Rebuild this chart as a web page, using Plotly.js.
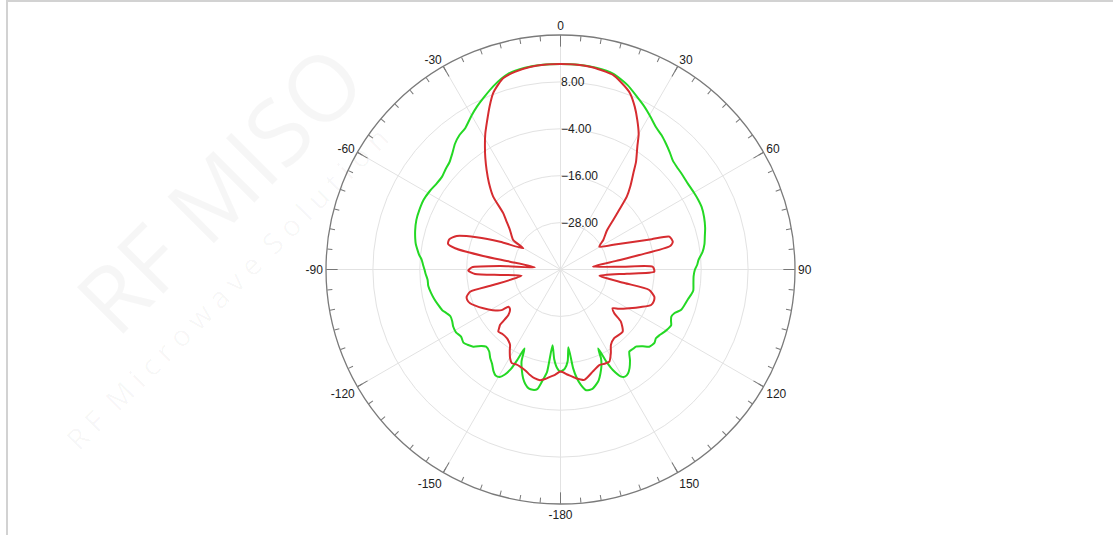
<!DOCTYPE html>
<html>
<head>
<meta charset="utf-8">
<script src="https://cdn.plot.ly/plotly-3.0.1.min.js"></script>
<style>
  html, body { margin:0; padding:0; background:#fff; }
  #wrap { position:relative; width:1113px; height:535px; overflow:hidden; }
  #frame { position:absolute; left:6px; top:0; width:1113px; height:535px;
           border-top:2px solid #d2d2d2; border-left:2px solid #d2d2d2; box-sizing:border-box; pointer-events:none; z-index:5; }
  #chart { position:absolute; left:0; top:0; width:1113px; height:535px; }
</style>
</head>
<body>
<div id="wrap">
  <div id="chart"></div>
  <div id="frame"></div>
</div>
<script>
// ---- Data (angle in degrees, gain in dB) ----
const greenTheta = [-180,-178,-176,-174,-172.5,-171,-169,-167,-165,-163,-161,-159,-157,-155.5,-154.5,-153.5,-152,-150.5,-148.5,-146.5,-144,-141.5,-139,-136,-134,-131.5,-129,-127,-124,-121,-118,-115.5,-113,-111,-109,-106,-103,-100,-97,-94.5,-92,-90,-88,-86,-84,-82,-80,-78,-75,-71,-67,-63,-59,-55.5,-52,-49,-46,-43,-40,-37,-34,-30,-27,-24,-20,-15,-10,-5,0,
  5,10,15,20,24,27,30,34,37,40,43,46,48.5,52,56,60,63,66,70,74,77,80,83,86,88,90,93,96,99,101,103,106,108.6,111,113,115,116.7,119,121,123.5,125.8,128,131,133,135.6,137.5,140,142.5,145,147,149,150.5,152.5,153.5,154.5,155.5,157,159,161,162.5,165,168,170,171.5,172.7,174.2,175.5,177.5,180];
const greenR = [-13.9,-14.8,-17.0,-20.5,-13.5,-11.5,-8.8,-8.4,-8.5,-9.3,-10.6,-12.4,-14.5,-17.8,-14.5,-11.5,-9.5,-8.4,-8.2,-8.9,-10.2,-11.1,-12.2,-12.6,-11.8,-10.2,-9.4,-8.9,-9.3,-8.8,-8.9,-9.3,-9.4,-8.8,-8.0,-7.4,-6.8,-6.3,-5.9,-5.9,-5.5,-5.2,-4.8,-4.4,-3.6,-3.0,-2.4,-2.0,-1.5,-1.0,-0.8,-0.7,-1.0,-1.4,-1.5,-1.0,-0.5,0.6,2.0,3.0,3.6,5.5,6.9,8.2,10.0,11.8,12.4,12.6,12.6,
  12.6,12.4,11.9,10.2,8.3,7.0,5.6,3.8,3.0,2.0,1.0,0.0,-0.3,-0.5,-0.7,-0.6,-0.5,-0.5,-0.9,-1.5,-2.1,-2.6,-3.4,-4.6,-5.0,-5.6,-5.9,-5.8,-5.6,-6.0,-6.5,-7.0,-7.5,-8.8,-9.2,-8.8,-8.3,-8.6,-9.0,-9.6,-9.9,-9.5,-9.9,-11.2,-12.4,-12.5,-12.6,-10.8,-9.2,-8.3,-8.0,-8.5,-11.0,-13.5,-17.6,-15.0,-13.2,-11.5,-10.0,-9.3,-8.4,-8.4,-10.0,-12.0,-14.5,-20.0,-16.5,-14.6,-13.9];

const redTheta = [-180,-177,-174.4,-172,-169.5,-166.5,-163.9,-161,-157.4,-155,-152.5,-150.4,-148,-146.2,-144,-142,-138,-135,-133.5,-132.5,-131.1,-128,-125.5,-124.6,-121,-116.7,-113,-110.5,-108,-106.2,-103.8,-103,-99.1,
  -95.2,-93,-90.7,-88.6,-86.7,-85.1,
  -81.2,-80.1,-78.6,-77.2,-74.8,-72.1,-69,-65.3,-60.3,
  -58,-52,-48,-45.5,-42.7,-39.5,-36.6,-34,-31.6,-29,-26.1,-23.5,-20.9,-18.5,-16.7,-13,-8.6,-4,0,
  4,8.6,13,15,18,21.5,24.5,27.2,30,32,35,37.1,40,42.3,44.5,46.8,50,55.4,59.6,
  65.8,69.4,71.6,73.2,76.1,77.9,79.6,81.2,85,
  87.4,88.3,91.3,93.6,99.1,
  101.9,103,106.2,109,111.4,115,119.4,124,126.6,129.2,130.8,135,142,146.2,149,152.1,155,157.9,162.5,167.8,171.9,176,180];
const redR = [-13.9,-13.0,-12.4,-11.7,-11.2,-11.4,-11.9,-12.6,-13.1,-13.2,-13.0,-13.9,-15.5,-16.8,-17.4,-17.7,-17.8,-17.5,-18.4,-19.0,-22.3,-23.6,-23.6,-21.7,-19.8,-17.9,-16.3,-15.3,-14.9,-15.0,-16.2,-22.3,-29.9,
  -24.5,-18.1,-16.4,-17.3,-24.5,-33.4,
  -26.9,-19.9,-12.5,-10.5,-10.5,-12.1,-17.0,-23.0,-29.0,
  -25.7,-23.6,-21.3,-19.5,-14.6,-11.2,-8.3,-5.6,-3.1,-0.3,2.6,5.5,8.3,10.0,11.1,11.9,12.4,12.6,12.6,
  12.6,12.4,11.9,11.6,10.3,8.5,5.8,3.0,0.0,-2.9,-6.3,-9.1,-12.2,-14.8,-18.5,-21.5,-24.5,-26.7,-28.5,
  -24.2,-19.8,-15.4,-10.9,-10.4,-11.3,-19.5,-25.6,-31.7,
  -24.1,-16.4,-16.0,-23.0,-29.9,
  -23.3,-16.7,-15.0,-14.8,-15.1,-17.3,-19.8,-22.0,-23.4,-22.2,-19.6,-17.5,-17.7,-16.8,-15.0,-13.3,-13.4,-13.6,-12.6,-11.1,-11.9,-13.0,-13.9];

const radialRange = [-40, 20];
const radialTicks = [-28, -16, -4, 8];
const angleTickVals = [0,30,60,90,120,150,180,210,240,270,300,330];
const angleTickText = ['0','30','60','90','120','150','-180','-150','-120','-90','-60','-30'];
const watermarkBrand = 'RF MISO';
const watermarkSub = 'R F  M i c r o w a v e  S o l u t i o n';

const W = 1113, H = 535;
const margin = {l: 8, r: 0, t: 35, b: 31};
function px2paperX(px){ return (px - margin.l) / (W - margin.l - margin.r); }
function px2paperY(py){ return 1 - (py - margin.t) / (H - margin.t - margin.b); }

const traces = [
  {type:'scatterpolar', mode:'lines', theta: greenTheta, r: greenR, subplot:'polar',
   line:{color:'rgb(36,216,36)', width:2, shape:'spline', smoothing:0.6}, hoverinfo:'skip', showlegend:false},
  {type:'scatterpolar', mode:'lines', theta: redTheta, r: redR, subplot:'polar',
   line:{color:'rgb(214,44,48)', width:2, shape:'spline', smoothing:0.6}, hoverinfo:'skip', showlegend:false},
  {type:'scatterpolar', mode:'markers', theta:[0], r:[radialRange[0]], subplot:'polar2',
   marker:{opacity:0, size:1}, hoverinfo:'skip', showlegend:false}
];

const wmFont = {family:'Open Sans, Liberation Sans, sans-serif', size:92, color:'rgba(0,0,0,0.035)'};
const wmSubFont = {family:'Open Sans, Liberation Sans, sans-serif', size:29, color:'rgba(0,0,0,0.035)'};
const annotations = [
  {text: watermarkBrand, xref:'paper', yref:'paper', xanchor:'center', yanchor:'middle',
   x: px2paperX(218), y: px2paperY(188), showarrow:false, textangle:-45, font: wmFont},
  {text: watermarkSub, xref:'paper', yref:'paper', xanchor:'center', yanchor:'middle',
   x: px2paperX(226), y: px2paperY(288), showarrow:false, textangle:-45, font: wmSubFont}
];

const tickFont = {family:'Liberation Sans, Arial, sans-serif', size:12, color:'#222'};

const layout = {
  width: W, height: H,
  margin: margin,
  paper_bgcolor:'#ffffff',
  showlegend:false,
  polar: {
    domain:{x:[0,1], y:[0,1]},
    bgcolor:'rgba(0,0,0,0)',
    angularaxis:{
      direction:'clockwise', rotation:90, thetaunit:'degrees',
      tickmode:'array', tickvals: angleTickVals, ticktext: angleTickText,
      ticks:'inside', ticklen:11, tickwidth:1, tickcolor:'#777',
      showline:true, linecolor:'#7a7a7a', linewidth:1.3,
      showgrid:true, gridcolor:'#e2e2e2', gridwidth:1,
      tickfont: tickFont
    },
    radialaxis:{
      range: radialRange, angle:90, side:'clockwise', tickangle:90,
      tickmode:'array', tickvals: radialTicks, tickformat:'.2f',
      showline:false, ticks:'', showgrid:true, gridcolor:'#e2e2e2', gridwidth:1,
      tickfont: tickFont
    }
  },
  polar2: {
    domain:{x:[0,1], y:[0,1]},
    bgcolor:'rgba(0,0,0,0)',
    angularaxis:{
      direction:'clockwise', rotation:90, thetaunit:'degrees',
      tickmode:'linear', tick0:0, dtick:5,
      ticks:'inside', ticklen:5, tickwidth:1, tickcolor:'#777',
      showticklabels:false, showline:false, showgrid:false
    },
    radialaxis:{range: radialRange, visible:false}
  },
  annotations: annotations
};

Plotly.newPlot('chart', traces, layout, {staticPlot:true, displayModeBar:false});
</script>
</body>
</html>
